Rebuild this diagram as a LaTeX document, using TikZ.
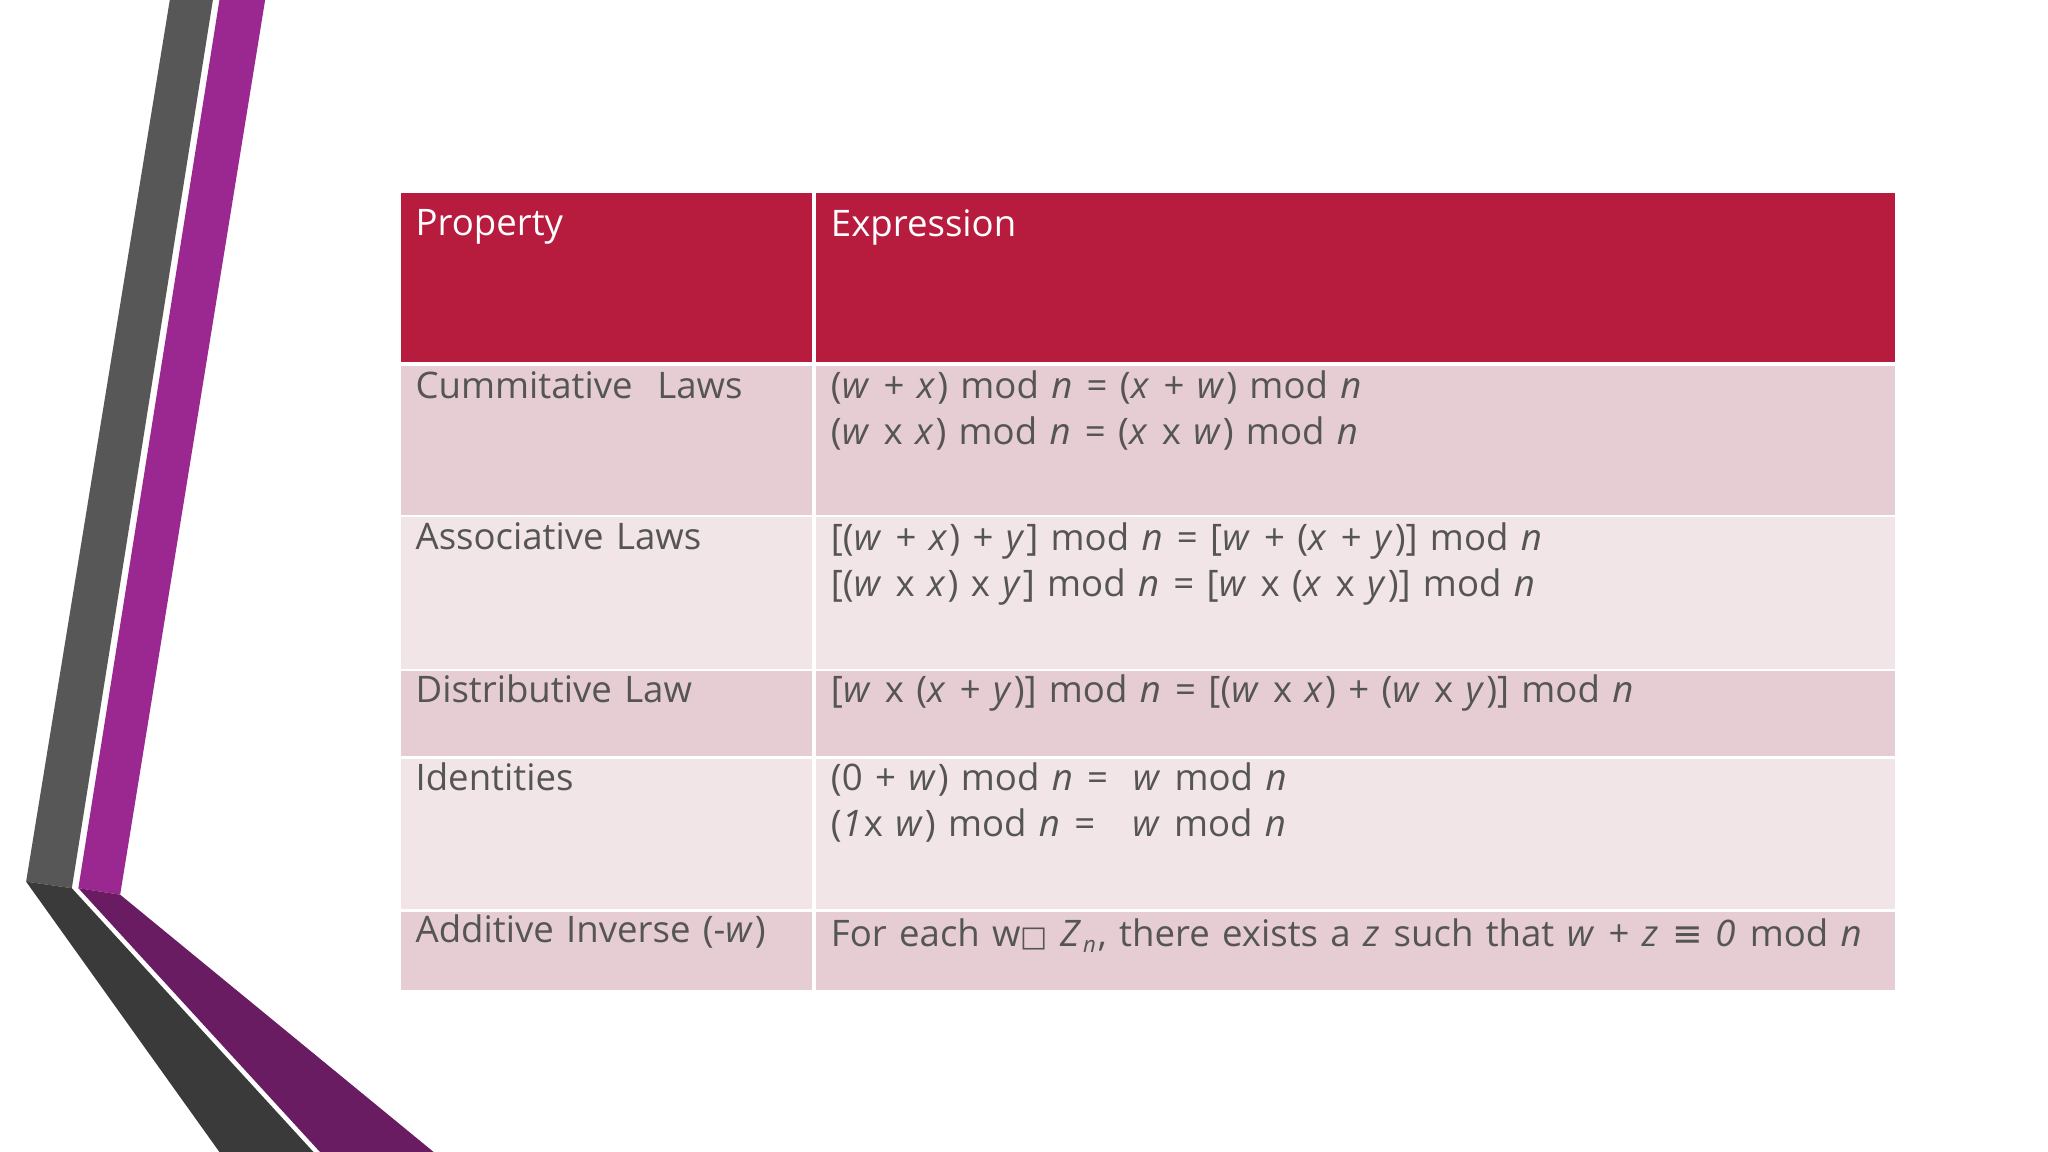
\documentclass[tikz,border=0pt]{standalone}
\usepackage{fontspec}
\setmainfont{Open Sans}[WordSpace=1.3]
\newfontfamily\dvs{DejaVu Sans}
\definecolor{hdr}{HTML}{B71C3F}
\definecolor{rowa}{HTML}{E6CDD3}
\definecolor{rowb}{HTML}{F2E5E8}
\definecolor{txt}{HTML}{555555}
\definecolor{pup}{HTML}{9A2890}
\definecolor{pdn}{HTML}{6A1C62}
\definecolor{gup}{HTML}{575757}
\definecolor{gdn}{HTML}{3A3A3A}
\newcommand{\mi}[1]{\textit{#1}\kern1.5pt\relax}
\begin{document}
\begin{tikzpicture}[x=1pt,y=-1pt,
  cell/.style={anchor=north west,inner sep=0pt,font=\fontsize{28}{35}\selectfont,text=txt,align=left},
  hcell/.style={cell,text=white}]
\useasboundingbox[fill=white] (0,0) rectangle (1568,882);
% decoration
\fill[gup] (130,0) -- (163,0) -- (55,680) -- (20,675) -- cycle;
\fill[gdn] (20,675) -- (55,680) -- (240,882) -- (168,882) -- cycle;
\fill[pup] (168,0) -- (203,0) -- (92,685) -- (60,680) -- cycle;
\fill[pdn] (60,680) -- (92,685) -- (332,882) -- (245,882) -- cycle;
% table
\fill[hdr] (307,148) rectangle (1451,277);
\fill[rowa] (307,280) rectangle (1451,394);
\fill[rowb] (307,396) rectangle (1451,512);
\fill[rowa] (307,514) rectangle (1451,579);
\fill[rowb] (307,581) rectangle (1451,696);
\fill[rowa] (307,698) rectangle (1451,758);
\draw[white,line width=3] (623,148) -- (623,758);
\node[hcell] (h1) at (318,160) {Property};
\node[hcell] (h2) at (636,160) {Expression};
\node[cell] (p1) at (318,284) {Cummitative\ \ Laws};
\node[cell] (e1) at (636,284) {(\mi{w} + \mi{x}) mod \mi{n} = (\mi{x} + \mi{w}) mod \mi{n}\\(\mi{w} x \mi{x}) mod \mi{n} = (\mi{x} x \mi{w}) mod \mi{n}};
\node[cell] (p2) at (318,400) {Associative Laws};
\node[cell] (e2) at (636,400) {[(\mi{w} + \mi{x}) + \mi{y}] mod \mi{n} = [\mi{w} + (\mi{x} + \mi{y})] mod \mi{n}\\{}[(\mi{w} x \mi{x}) x \mi{y}] mod \mi{n} = [\mi{w} x (\mi{x} x \mi{y})] mod \mi{n}};
\node[cell] (p3) at (318,516) {Distributive Law};
\node[cell] (e3) at (636,516) {[\mi{w} x (\mi{x} + \mi{y})] mod \mi{n} = [(\mi{w} x \mi{x}) + (\mi{w} x \mi{y})] mod \mi{n}};
\node[cell] (p4) at (318,584) {Identities};
\node[cell] (e4) at (636,584) {(0 + \mi{w}) mod \mi{n} = \ \mi{w} mod \mi{n}\\(\mi{1}x \mi{w}) mod \mi{n} = \ \ \mi{w} mod \mi{n}};
\node[cell] (p5) at (318,700) {Additive Inverse (-\mi{w})};
\node[cell] (e5) at (636,703) {For each w{\dvs\fontsize{22}{26}\selectfont □} \mi{Z}\raisebox{-0.3ex}{\fontsize{17}{20}\selectfont\mi{n}}, there exists a \mi{z} such that \mi{w} + \mi{z} {\dvs ≡} \mi{0} mod \mi{n}};
\end{tikzpicture}
\end{document}
